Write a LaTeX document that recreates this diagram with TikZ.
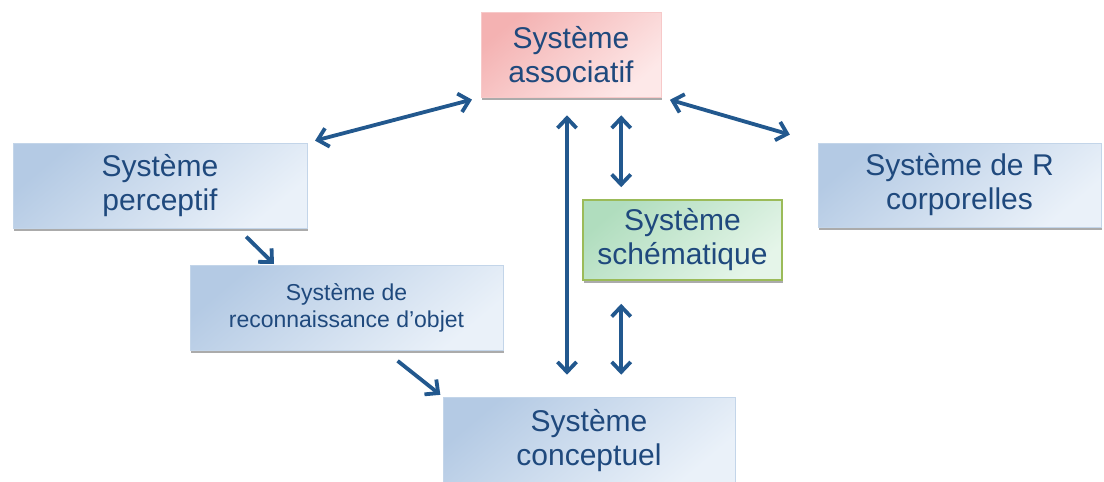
\documentclass[tikz,border=0pt]{standalone}
\usepackage{fontspec}
\setmainfont{Liberation Sans}
\usepackage{tikz}
\usetikzlibrary{arrows.meta,shadows}
\tikzset{>={Straight Barb[length=10pt,width=19pt]}}
\definecolor{txtblue}{RGB}{31,73,125}
\definecolor{arrowblue}{RGB}{34,88,142}
\definecolor{bluedark}{RGB}{180,202,228}
\definecolor{bluelight}{RGB}{234,241,249}
\definecolor{pinkdark}{RGB}{244,178,178}
\definecolor{pinklight}{RGB}{253,232,232}
\definecolor{greendark}{RGB}{176,221,190}
\definecolor{greenlight}{RGB}{229,245,233}
\definecolor{greenedge}{RGB}{155,187,89}

\begin{document}
\begin{tikzpicture}[x=1pt, y=-1pt,
  box/.style={rectangle, align=center, text=txtblue, inner sep=0pt,
    font=\fontsize{30}{34}\selectfont,
    drop shadow={shadow xshift=1pt, shadow yshift=-3pt, fill=black!60, opacity=0.55}},
  bluebox/.style={box, draw=bluedark!80, line width=0.6pt, top color=bluedark, bottom color=bluelight, shading angle=40},
  pinkbox/.style={box, draw=pinkdark!70, line width=0.6pt, top color=pinkdark, bottom color=pinklight, shading angle=40},
  greenbox/.style={box, draw=greenedge, line width=1.6pt, top color=greendark, bottom color=greenlight, shading angle=40},
  link/.style={draw=arrowblue, line width=3.8pt}]
  \useasboundingbox (0,0) rectangle (1104,482);
  \node (assoc) at (571,54.5) [pinkbox, minimum width=180, minimum height=85] {Système\\associatif};
  \node (percep) at (160,185.5) [bluebox, minimum width=294, minimum height=85] {Système\\perceptif};
  \node (corpo) at (959.5,185) [bluebox, minimum width=283, minimum height=84] {Système de R\\corporelles};
  \node (schema) at (682.5,240) [greenbox, minimum width=199, minimum height=80] {Système\\schématique};
  \node (reco) at (346.5,307.5) [bluebox, minimum width=313, minimum height=85, font=\fontsize{23}{27}\selectfont] {Système de\\reconnaissance d’objet};
  \node (concept) at (589,441) [bluebox, minimum width=292, minimum height=88] {Système\\conceptuel};
  \draw[link,<->,shorten <=8, shorten >=9] (percep.north east) -- (assoc.south west);
  \draw[link,<->,shorten <=9, shorten >=29] (assoc.south east) -- (corpo.north west);
  \draw[link,<->,shorten <=18, shorten >=22] ([xshift=-4]assoc.south) -- ([xshift=-4]assoc.south |- concept.north);
  \draw[link,<->,shorten <=18, shorten >=12] ([xshift=39]schema.north west |- assoc.south) -- ([xshift=39]schema.north west);
  \draw[link,<->,shorten <=23, shorten >=22] ([xshift=39]schema.south west) -- ([xshift=39]schema.south west |- concept.north);
  \draw[link,->,shorten <=12, shorten >=1] ([xshift=225]percep.south west) -- ([xshift=85]reco.north west);
  \draw[link,->,shorten <=17, shorten >=3] ([xshift=194.6]reco.south west) -- (concept.north west);
\end{tikzpicture}
\end{document}
